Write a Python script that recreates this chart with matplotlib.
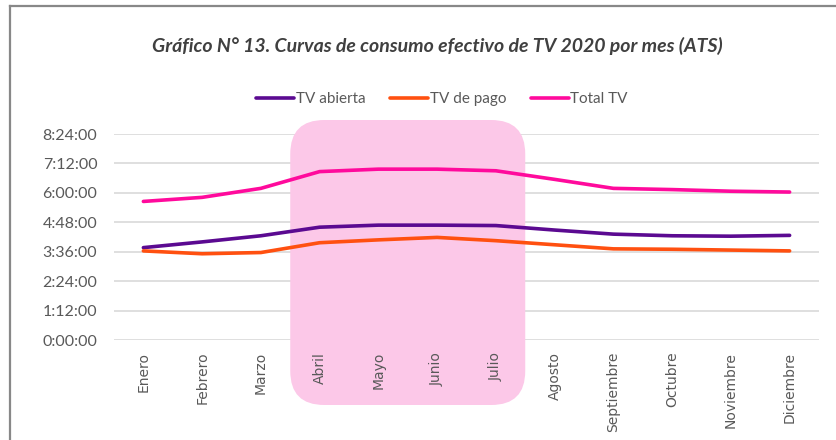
import matplotlib
matplotlib.use("Agg")
import matplotlib.pyplot as plt
from matplotlib.patches import FancyBboxPatch
from matplotlib.lines import Line2D
from matplotlib.transforms import IdentityTransform
from matplotlib.ticker import FuncFormatter

months = ["Enero", "Febrero", "Marzo", "Abril", "Mayo", "Junio", "Julio",
          "Agosto", "Septiembre", "Octubre", "Noviembre", "Diciembre"]
# minutes of daily consumption (ATS)
tv_abierta = [226, 240, 255, 276, 281, 281, 280, 269, 259, 255, 254, 256]
tv_pago = [218, 211, 214, 238, 245, 251, 243, 233, 223, 222, 220, 218]
total_tv = [339, 349, 371, 412, 418, 418, 414, 393, 371, 368, 364, 362]
series_names = ["TV abierta", "TV de pago", "Total TV"]
yticks_min = [0, 72, 144, 216, 288, 360, 432, 504]
highlight_months = ["Abril", "Julio"]

colors = ["#5B0A91", "#FF5010", "#FF0A9C"]

W, H = 836, 440
fig = plt.figure(figsize=(W / 100, H / 100), dpi=100)
ax = fig.add_axes([114 / W, (H - 340) / H, (819 - 114) / W, (340 - 134) / H])

x = list(range(len(months)))
ax.set_xlim(-0.5, len(months) - 0.5)
ax.set_ylim(0, 504)

for yv in yticks_min:
    ax.axhline(yv, color="#D9D9D9", lw=1.2, zorder=1)

for vals, c, name in zip([tv_abierta, tv_pago, total_tv], colors, series_names):
    ax.plot(x, vals, color=c, lw=2.6, solid_capstyle="round", label=name, zorder=3)

for s in ax.spines.values():
    s.set_visible(False)
ax.set_axisbelow(False)
ax.tick_params(length=0)
ax.set_yticks(yticks_min)
ax.yaxis.set_major_formatter(FuncFormatter(lambda v, p: f"{int(v)//60}:{int(v)%60:02d}:00"))
ax.tick_params(axis="y", labelsize=11.5, labelcolor="#595959", pad=12)
for t in ax.get_yticklabels():
    t.set_fontfamily("Lato")
ax.set_xticks(x)
ax.set_xticklabels(months, rotation=90, fontsize=10, color="#595959",
                   fontfamily="DejaVu Sans", va="top")
ax.tick_params(axis="x", pad=8.5)

# highlight box
i0 = months.index(highlight_months[0]) - 0.5
i1 = months.index(highlight_months[1]) + 0.5
x0 = ax.transData.transform((i0, 0))[0]
x1 = ax.transData.transform((i1, 0))[0]
yb, yt = H - 405, H - 120
box = FancyBboxPatch((x0, yb), x1 - x0, yt - yb,
                     boxstyle="round,pad=0,rounding_size=34",
                     transform=IdentityTransform(), facecolor="#FCC8E8",
                     edgecolor="none", clip_on=False, zorder=1.5)
ax.add_patch(box)

fig.text(437 / W, (H - 46) / H,
         "Gráfico N° 13. Curvas de consumo efectivo de TV 2020 por mes (ATS)",
         ha="center", va="center", fontsize=14, fontweight="bold",
         fontstyle="italic", color="#404040", fontfamily="Lato")

leg = fig.legend(loc="center", bbox_to_anchor=(442 / W, (H - 99) / H), ncol=3,
                 frameon=False, handlelength=2.5, handletextpad=0.1,
                 columnspacing=1.6, prop={"family": "Lato", "size": 11})
for t in leg.get_texts():
    t.set_color("#595959")

# frame
fig.add_artist(Line2D([9.5 / W, 1], [(H - 6.5) / H] * 2, transform=fig.transFigure,
                      color="#888888", lw=1.6))
fig.add_artist(Line2D([9.5 / W] * 2, [0, (H - 6.5) / H], transform=fig.transFigure,
                      color="#888888", lw=1.6))

fig.savefig("out.png", dpi=100)
